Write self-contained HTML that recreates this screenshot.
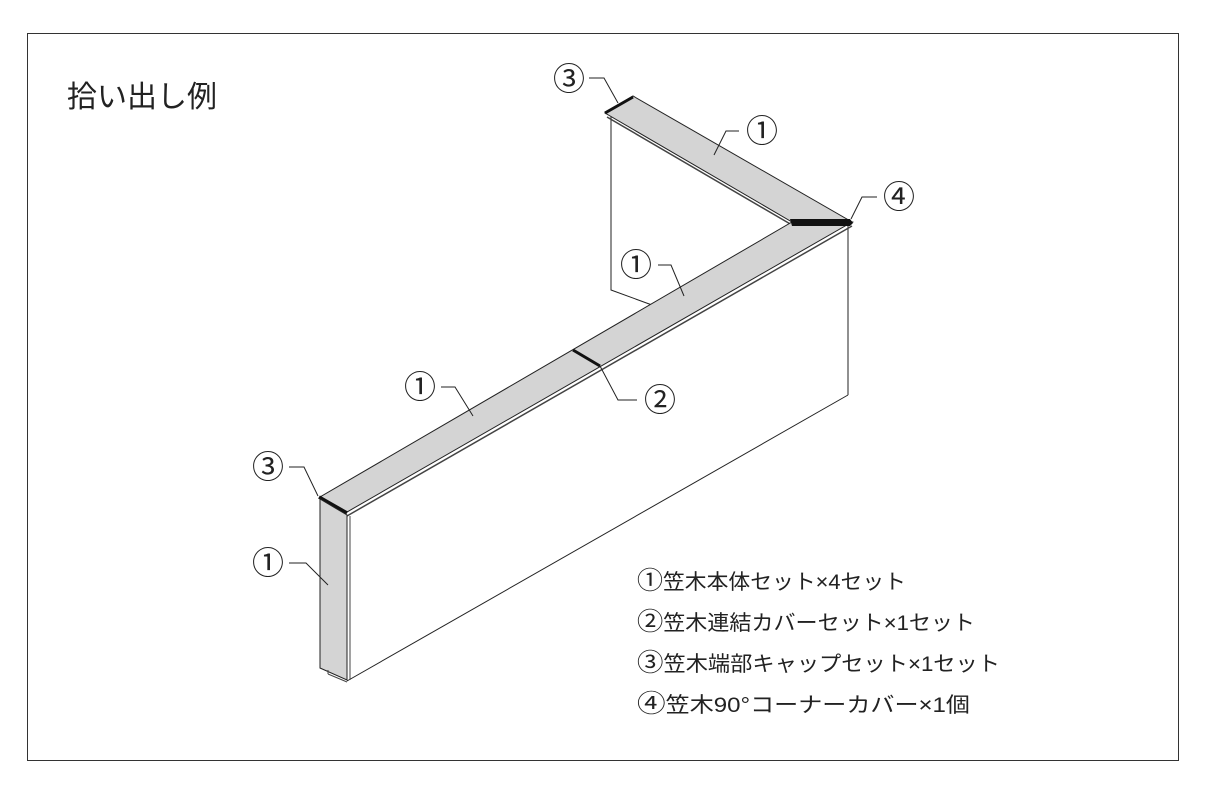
<!DOCTYPE html>
<html><head><meta charset="utf-8"><style>
html,body{margin:0;padding:0;background:#fff;}
svg{display:block;}
text{font-family:"Liberation Sans","Noto Sans CJK JP",sans-serif;fill:#222;}
</style></head><body>
<svg width="1206" height="788" viewBox="0 0 1206 788" xmlns="http://www.w3.org/2000/svg">
<rect x="27.5" y="33.5" width="1151" height="727" fill="none" stroke="#333" stroke-width="1"/>
<text x="67" y="107" font-size="30">拾い出し例</text>

<g stroke="#222" stroke-width="1" fill="none">
<polyline points="611,115 611,290 652,305"/>
<line x1="848" y1="226" x2="848" y2="395"/>
<line x1="347" y1="681" x2="848" y2="395"/>
</g>
<polygon points="605,113 633,96 852,222 792,222" fill="#d4d4d4" stroke="#222" stroke-width="1"/>
<line x1="607" y1="117" x2="792" y2="225" stroke="#444" stroke-width="1.5"/>
<polygon points="792,222 852,222 347,512 320,497" fill="#d4d4d4" stroke="#222" stroke-width="1"/>
<line x1="852" y1="226" x2="347" y2="516" stroke="#444" stroke-width="1.5"/>
<polygon points="790,219 850,219 853,223 850,226 792,226" fill="#111"/>
<line x1="573" y1="350" x2="600" y2="366" stroke="#111" stroke-width="3"/>
<line x1="605" y1="113" x2="633" y2="97" stroke="#111" stroke-width="3"/>
<line x1="319" y1="497" x2="347" y2="513" stroke="#111" stroke-width="3.5"/>
<polygon points="320,499 347,515 347,680 320,668" fill="#d4d4d4" stroke="#222" stroke-width="1"/>
<line x1="350" y1="516" x2="350" y2="680" stroke="#444" stroke-width="1"/>
<line x1="328" y1="670" x2="328" y2="674" stroke="#444"/>
<line x1="328" y1="674" x2="347" y2="682" stroke="#444"/>

<g stroke="#222" stroke-width="1" fill="none">
<polyline points="589,78 604,78 618,103"/>
<polyline points="739,131 726,131 714,155"/>
<polyline points="877,197 862,197 851,219"/>
<polyline points="658,265 671,265 684,296"/>
<polyline points="637,400 618,400 600,366"/>
<polyline points="441,387 455,387 473,416"/>
<polyline points="289,467 304,467 318,496"/>
<polyline points="289,563 306,563 328,585"/>
</g>
<g font-size="32" text-anchor="middle">
<text x="569" y="90">③</text>
<text x="762" y="142">①</text>
<text x="899" y="208">④</text>
<text x="636" y="276">①</text>
<text x="660" y="411">②</text>
<text x="420" y="398">①</text>
<text x="268" y="478">③</text>
<text x="268" y="574">①</text>
</g>
<g font-size="21">
<text x="637" y="589" textLength="269" lengthAdjust="spacingAndGlyphs"><tspan font-size="25">①</tspan>笠木本体セット×4セット</text>
<text x="637" y="630" textLength="338" lengthAdjust="spacingAndGlyphs"><tspan font-size="25">②</tspan>笠木連結カバーセット×1セット</text>
<text x="637" y="671" textLength="363" lengthAdjust="spacingAndGlyphs"><tspan font-size="25">③</tspan>笠木端部キャップセット×1セット</text>
<text x="637" y="712" textLength="333" lengthAdjust="spacingAndGlyphs"><tspan font-size="25">④</tspan>笠木90°コーナーカバー×1個</text>
</g>
</svg>
</body></html>
